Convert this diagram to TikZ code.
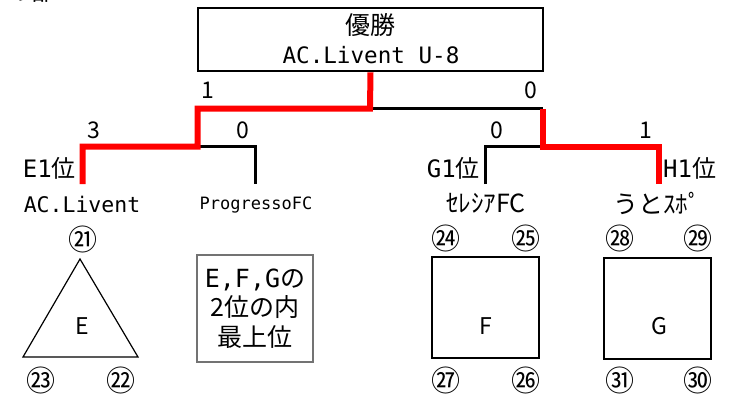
\documentclass[tikz,border=0pt]{standalone}
\usepackage{fontspec}
\setmainfont{Noto Sans CJK JP}
\newfontfamily\monofont{DejaVu Sans Mono}
\newcommand{\mono}[1]{{\monofont #1}}
\usetikzlibrary{positioning}

\begin{document}
\begin{tikzpicture}[x=1pt, y=-1pt, inner sep=0pt,
  win/.style={draw=red, line width=6pt},
  lose/.style={draw=black, line width=2.8pt},
  score/.style={font=\fontsize{23}{23}\selectfont},
  rank/.style={font=\fontsize{24}{24}\selectfont},
  team/.style={font=\fontsize{25}{25}\selectfont},
  num/.style={font=\fontsize{29}{29}\selectfont},
  letter/.style={font=\fontsize{23}{23}\selectfont},
  grp/.style={draw, line width=2pt, minimum width=107pt, minimum height=101pt}]
\useasboundingbox (0,0) rectangle (729,397);
\node[font=\fontsize{24}{24}\selectfont] (part) at (32,-9) {の部};

% champion
\node[draw, line width=2.6pt, minimum width=345pt, minimum height=63pt] (champ) at (370.5,39.5) {};
\node[font=\fontsize{25}{25}\selectfont] (title) at (370,25) {優勝};
\node[font=\monofont\fontsize{22.6}{22.6}\selectfont] (winner) at (371,55) {AC.Livent U-8};

% bracket
\coordinate (tE) at (82.5,184);
\coordinate (tP) at (255.5,184);
\coordinate (tG) at (485.5,184);
\coordinate (tH) at (658.5,184);
\coordinate (sL) at (197.5,146.5);
\coordinate (sR) at (543,146.5);
\coordinate (fin) at (370,108.5);
\draw[lose] (sL) -| (tP);
\draw[lose] (tG) |- (sR);
\draw[lose] (fin) -- (fin -| sR);
\draw[win] (tE) |- (sL) |- (fin) -- (champ.south);
\draw[win] (tH) |- (sR) -- (sR |- fin);

% scores
\node[score] (r1) at (208,90) {1};
\node[score] (r2) at (531,90) {0};
\node[score] (r3) at (93.5,130) {3};
\node[score] (r4) at (243,130) {0};
\node[score] (r5) at (496.5,130) {0};
\node[score] (r6) at (646,130) {1};

% ranks and teams
\node[rank, anchor=east] (e1) at (76,168) {\mono{E1}位};
\node[rank, anchor=east] (g1) at (480,168) {\mono{G1}位};
\node[rank, anchor=west] (h1) at (663,168) {\mono{H1}位};
\node[font=\monofont\fontsize{21.5}{21.5}\selectfont] (acl) at (82,204) {AC.Livent};
\node[font=\monofont\fontsize{17}{17}\selectfont] (pro) at (256,205) {ProgressoFC};
\node[team] (cel) at (486,203) {ｾﾚｼｱFC};
\node[team] (uto) at (657,203) {うとｽﾎﾟ};

% group E
\draw[line width=1.2pt] (80,259) -- (138,357) -- (23,357) -- cycle;
\node[letter] (lE) at (82.5,326) {E};
\node[num] (n21) at (83,239) {㉑};
\node[num] (n22) at (120.5,380) {㉒};
\node[num] (n23) at (41.5,380) {㉓};

% best second
\node[draw=black!55, line width=2.7pt, minimum width=116pt, minimum height=107pt, align=center,
  font=\fontsize{25}{29.5}\selectfont] (best2) at (255,308.5) {\mono{E,F,G}の\\2位の内\\最上位};

% group F
\node[grp] (gF) at (485.5,307.5) {};
\node[letter] (lF) at (486,326) {F};
\node[num] (n24) at (446,238) {㉔};
\node[num] (n25) at (525.5,238) {㉕};
\node[num] (n26) at (525.5,380) {㉖};
\node[num] (n27) at (446,380) {㉗};

% group G
\node[grp] (gG) at (657,308.5) {};
\node[letter] (lG) at (659,326) {G};
\node[num] (n28) at (619.5,238) {㉘};
\node[num] (n29) at (698,238) {㉙};
\node[num] (n30) at (698,380) {㉚};
\node[num] (n31) at (619.5,380) {㉛};
\end{tikzpicture}
\end{document}
